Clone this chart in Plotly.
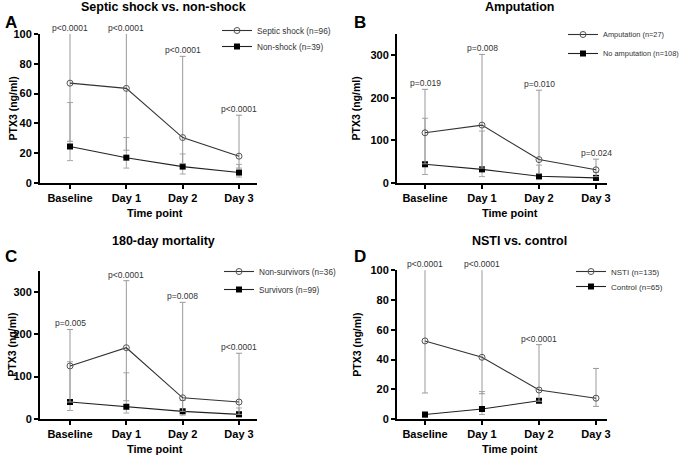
import plotly.graph_objects as go

categories = ["Baseline", "Day 1", "Day 2", "Day 3"]

# Panel A: Septic shock vs non-shock (median, Q1, Q3)
a_shock_med = [67, 63.5, 30.5, 18]
a_shock_q1 = [28, 22, 13, 10]
a_shock_q3 = [115, 115, 85, 45.5]
a_non_med = [24.5, 17, 11, 7]
a_non_q1 = [15, 10, 6, 4]
a_non_q3 = [54, 30.5, 19.5, 12.5]
a_pvals = ["p<0.0001", "p<0.0001", "p<0.0001", "p<0.0001"]

# Panel B: Amputation
b_amp_med = [118, 136, 55, 31]
b_amp_q1 = [45, 35, 22, 15]
b_amp_q3 = [220, 302, 218, 56]
b_no_med = [44, 32, 16, 12]
b_no_q1 = [20, 15, 8, 6]
b_no_q3 = [152, 122, 42, 25]
b_pvals = ["p=0.019", "p=0.008", "p=0.010", "p=0.024"]

# Panel C: 180-day mortality
c_non_med = [125, 168, 50, 40]
c_non_q1 = [40, 43, 18, 11]
c_non_q3 = [211, 326, 275, 155]
c_surv_med = [40, 29, 18, 11]
c_surv_q1 = [20, 14, 9, 5]
c_surv_q3 = [135, 109, 44, 26]
c_pvals = ["p=0.005", "p<0.0001", "p=0.008", "p<0.0001"]

# Panel D: NSTI vs control
d_nsti_med = [52.5, 41.5, 19.5, 14]
d_nsti_q1 = [17.5, 17, 12, 8.5]
d_nsti_q3 = [115, 115, 50, 34]
d_ctrl_med = [3, 6.7, 12.3, None]
d_ctrl_q1 = [1, 3, 12.3, None]
d_ctrl_q3 = [3, 18.5, 12.3, None]
d_pvals = ["p<0.0001", "p<0.0001", "p<0.0001", ""]

panels = [
    dict(title="Septic shock vs. non-shock", letter="A", ymax=100, dtick=20,
         s1=("Septic shock (n=96)", a_shock_med, a_shock_q1, a_shock_q3),
         s2=("Non-shock (n=39)", a_non_med, a_non_q1, a_non_q3), p=a_pvals),
    dict(title="Amputation", letter="B", ymax=350, dtick=100,
         s1=("Amputation (n=27)", b_amp_med, b_amp_q1, b_amp_q3),
         s2=("No amputation (n=108)", b_no_med, b_no_q1, b_no_q3), p=b_pvals),
    dict(title="180-day mortality", letter="C", ymax=350, dtick=100,
         s1=("Non-survivors (n=36)", c_non_med, c_non_q1, c_non_q3),
         s2=("Survivors (n=99)", c_surv_med, c_surv_q1, c_surv_q3), p=c_pvals),
    dict(title="NSTI vs. control", letter="D", ymax=100, dtick=20,
         s1=("NSTI (n=135)", d_nsti_med, d_nsti_q1, d_nsti_q3),
         s2=("Control (n=65)", d_ctrl_med, d_ctrl_q1, d_ctrl_q3), p=d_pvals),
]

W, H = 685, 456
FONT = "Liberation Sans, Arial, sans-serif"

# pixel geometry for each panel: (yaxis x, baseline x, day3 x, axis end x, y0 px, ytop px)
geo = [
    (40, 70, 239, 257, 183, 34),
    (397, 425, 596, 607, 183, 34),
    (40, 70, 239, 257, 419, 270.5),
    (397, 425, 596, 607, 419, 270.3),
]
title_pos = [(163, 7), (519, 7), (163, 241), (519, 241)]
letter_pos = [(3, 22), (352, 22), (3, 256), (352, 256)]
ytitle_x = [12, 355, 12, 357]
xtitle_y = [213, 213, 449, 449]
# legend entries: (text start x, text centre y) for series 1 and series 2
legend_entries = [
    [(255, 30), (255, 46)],
    [(601, 34), (601, 53)],
    [(257, 271), (257, 289)],
    [(609, 271), (609, 286)],
]
legend_font = [8.3, 7.4, 8.2, 8.0]

fig = go.Figure()
annotations = []
legend_layouts = {}

for i, pnl in enumerate(panels):
    n = "" if i == 0 else str(i + 1)
    yax_x, bx, dx, endx, y0, ytop = geo[i]
    sp = (dx - bx) / 3
    xr = [-(bx - yax_x) / sp, 3 + (endx - dx) / sp]
    xd = [yax_x / W, endx / W]
    yd = [(H - y0) / H, (H - ytop) / H]
    lg1 = "legend" if i == 0 else "legend" + str(2 * i + 1)
    lg2 = "legend" + str(2 * i + 2)

    def err(med, q1, q3):
        up = [None if m is None else q - m for m, q in zip(med, q3)]
        dn = [None if m is None else m - q for m, q in zip(med, q1)]
        return up, dn

    xs = list(range(4))
    name1, m1, l1, u1 = pnl["s1"]
    name2, m2, l2, u2 = pnl["s2"]
    up1, dn1 = err(m1, l1, u1)
    up2, dn2 = err(m2, l2, u2)

    fig.add_trace(go.Scatter(
        x=xs, y=m2, name=name2, mode="lines+markers", legend=lg2,
        xaxis="x" + n, yaxis="y" + n,
        line=dict(color="#222", width=1.1),
        marker=dict(symbol="square", size=6, color="black"),
        error_y=dict(type="data", array=up2, arrayminus=dn2, color="#a8a8a8",
                     thickness=1, width=3),
    ))
    fig.add_trace(go.Scatter(
        x=xs, y=m1, name=name1, mode="lines+markers", legend=lg1,
        xaxis="x" + n, yaxis="y" + n,
        line=dict(color="#333", width=1.1),
        marker=dict(symbol="circle-open", size=6, color="#555", line=dict(width=1)),
        error_y=dict(type="data", array=up1, arrayminus=dn1, color="#999",
                     thickness=1, width=3),
    ))

    for lg, (tx_, ty_) in zip((lg1, lg2), legend_entries[i]):
        legend_layouts[lg] = dict(
            x=(tx_ - 38) / W, y=1 - (ty_ - 14) / H, xanchor="left", yanchor="top",
            bgcolor="rgba(0,0,0,0)",
            font=dict(family=FONT, size=legend_font[i], color="#333"))

    axcommon = dict(showline=True, linecolor="black", linewidth=2, ticks="outside",
                    ticklen=4, tickwidth=2, tickcolor="black", showgrid=False,
                    zeroline=False, tickfont=dict(family=FONT, size=11, color="black", weight="bold"))
    fig.update_layout(**{
        "xaxis" + n: dict(domain=xd, range=xr, tickmode="array", tickvals=xs,
                          ticktext=categories, anchor="y" + n, **axcommon),
        "yaxis" + n: dict(domain=yd, range=[0, pnl["ymax"]], dtick=pnl["dtick"],
                          tick0=0, anchor="x" + n, **axcommon),
    })

    # axis titles
    annotations.append(dict(x=((bx + dx) / 2) / W, y=1 - xtitle_y[i] / H,
                            xref="paper", yref="paper", text="Time point",
                            showarrow=False, xanchor="center", yanchor="middle",
                            font=dict(family=FONT, size=11, color="black", weight="bold")))
    annotations.append(dict(x=ytitle_x[i] / W, y=1 - ((y0 + ytop) / 2) / H,
                            xref="paper", yref="paper", text="PTX3 (ng/ml)",
                            textangle=-90, showarrow=False, xanchor="center",
                            yanchor="middle",
                            font=dict(family=FONT, size=10.5, color="black", weight="bold")))

    # p-value labels
    for k in range(4):
        if not pnl["p"][k]:
            continue
        top = min(u1[k], pnl["ymax"]) if u1[k] is not None else 0
        annotations.append(dict(
            x=k, y=top, xref="x" + n, yref="y" + n, text=pnl["p"][k],
            showarrow=False, yanchor="bottom", yshift=-1,
            font=dict(family=FONT, size=8.5, color="#333")))

    tx, ty = title_pos[i]
    annotations.append(dict(x=tx / W, y=1 - ty / H, xref="paper", yref="paper",
                            text=pnl["title"], showarrow=False, xanchor="center",
                            yanchor="middle",
                            font=dict(family=FONT, size=12.5, color="black", weight="bold")))
    lx, ly = letter_pos[i]
    annotations.append(dict(x=lx / W, y=1 - ly / H, xref="paper", yref="paper",
                            text=pnl["letter"], showarrow=False, xanchor="left",
                            yanchor="middle",
                            font=dict(family=FONT, size=17, color="black", weight="bold")))

fig.update_layout(
    width=W, height=H, margin=dict(l=0, r=0, t=0, b=0, autoexpand=False),
    paper_bgcolor="white", plot_bgcolor="white",
    annotations=annotations, showlegend=True, **legend_layouts,
)

fig.write_html("out.html", post_script="document.body.style.margin='0';",
               config={"displayModeBar": False})
